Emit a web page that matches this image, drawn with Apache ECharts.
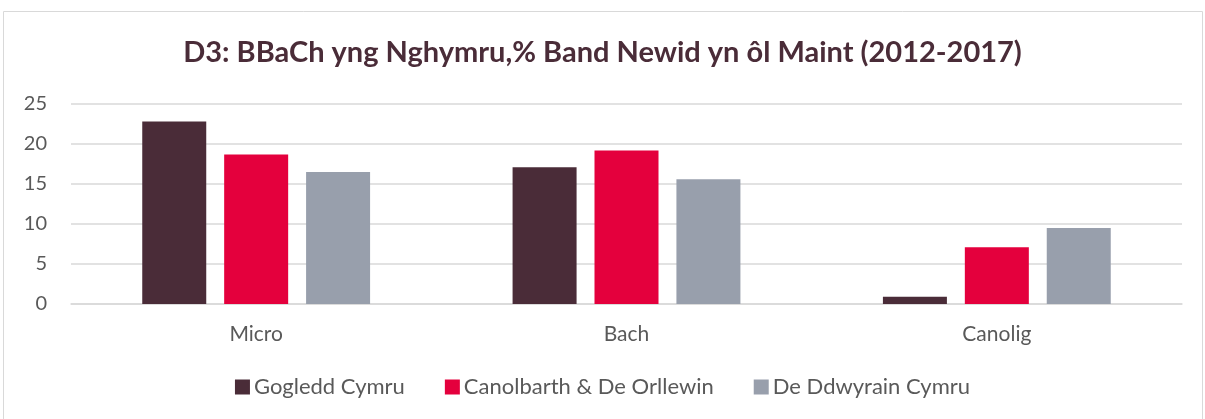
<!DOCTYPE html>
<html><head><meta charset="utf-8">
<script src="https://cdn.jsdelivr.net/npm/echarts@6/dist/echarts.min.js"></script>
<style>html,body{margin:0;padding:0;background:#fff}#c{width:1205px;height:419px}</style>
</head><body><div id="c"></div>
<script>
const categories = ['Micro', 'Bach', 'Canolig'];
const seriesNames = ['Gogledd Cymru', 'Canolbarth & De Orllewin', 'De Ddwyrain Cymru'];
const gogledd = [22.8, 17.1, 0.9];
const canolbarth = [18.7, 19.2, 7.1];
const deDdwyrain = [16.5, 15.6, 9.5];
const yTicks = [0, 5, 10, 15, 20, 25];
const colors = ['#4A2C38', '#E4003D', '#989FAC'];
const font = 'Lato';
const chart = echarts.init(document.getElementById('c'));
const mk = (name, data, i) => ({
  name, type: 'bar', data, barWidth: 64, barGap: '28%',
  itemStyle: { color: colors[i] }
});
chart.setOption({
  animation: false,
  graphic: [{ type: 'rect', shape: { x: 3.5, y: 11.5, width: 1199, height: 420 },
    style: { fill: 'none', stroke: '#D9D9D9', lineWidth: 1 } }],
  title: { text: 'D3: BBaCh yng Nghymru,% Band Newid yn ôl Maint (2012-2017)', left: 'center', top: 33,
    textStyle: { fontFamily: font, fontWeight: 'bold', fontSize: 29, color: '#4A2C38' } },
  legend: { bottom: 16, left: 'center', itemWidth: 15, itemHeight: 15, itemGap: 40, icon: 'rect',
    textStyle: { fontFamily: font, fontSize: 22, color: '#595959', padding: [0, 0, 0, -1] }, data: seriesNames },
  grid: { left: 71, right: 23, top: 104, bottom: 115, containLabel: false },
  xAxis: { type: 'category', data: categories,
    axisLine: { lineStyle: { color: '#D9D9D9', width: 1.5 } }, axisTick: { show: false },
    axisLabel: { fontFamily: font, fontSize: 21, color: '#595959', margin: 20 } },
  yAxis: { type: 'value', min: yTicks[0], max: yTicks[yTicks.length - 1], interval: 5,
    axisLine: { show: false }, axisTick: { show: false },
    splitLine: { lineStyle: { color: '#D9D9D9', width: 1.5 } },
    axisLabel: { fontFamily: font, fontSize: 20, color: '#595959', margin: 24 } },
  series: [mk(seriesNames[0], gogledd, 0), mk(seriesNames[1], canolbarth, 1), mk(seriesNames[2], deDdwyrain, 2)]
});
</script></body></html>
